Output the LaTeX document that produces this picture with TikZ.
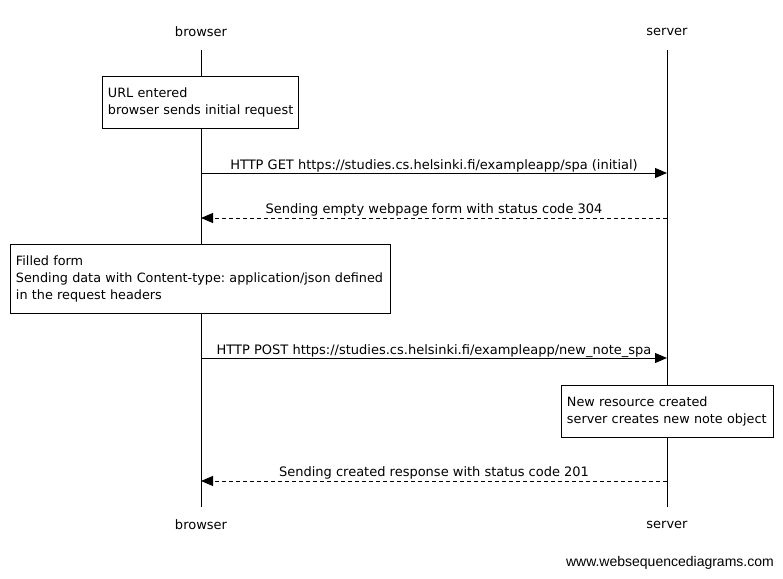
\documentclass[tikz,border=0pt]{standalone}
\usepackage{fontspec}
\setmainfont{DejaVu Sans}
\newfontfamily\wmfont{Liberation Sans}
\usetikzlibrary{arrows.meta}
\frenchspacing
\begin{document}
\begin{tikzpicture}[x=1pt,y=-1pt,
  lbl/.style={font=\fontsize{13}{17}\selectfont, inner sep=0pt},
  mlbl/.style={lbl, anchor=base},
  notebox/.style={draw=black, fill=white, line width=0.9pt, anchor=north west, align=left,
    font=\fontsize{12.8}{17}\selectfont, inner xsep=5.5pt, inner ysep=0pt},
  life/.style={line width=0.9pt},
  msg/.style={line width=0.9pt, -{Triangle[length=12pt,width=10pt]}},
  ret/.style={msg, dash pattern=on 4pt off 3pt}]
\useasboundingbox (0,0) rectangle (783,578);
% participants
\node[lbl] (btop) at (201,32) {browser};
\node[lbl] (stop) at (667,32) {server};
\node[lbl] (bbot) at (201,525) {browser};
\node[lbl] (sbot) at (667,525) {server};
\coordinate (bl1) at (201,50);
\coordinate (bl2) at (201,507);
\coordinate (sl1) at (667,50);
\coordinate (sl2) at (667,507);
\draw[life] (bl1) -- (bl2);
\draw[life] (sl1) -- (sl2);
% note 1
\node[notebox, minimum height=52pt, text width=185pt] (n1) at (102,76)
  {\mbox{URL entered}\\\mbox{browser sends initial request}};
% message 1
\coordinate (b1) at (201,173); \coordinate (s1) at (667,173);
\draw[msg] (b1) -- (s1);
\node[mlbl] (m1) at (434,169) {HTTP GET https://studies.cs.helsinki.fi/exampleapp/spa (initial)};
% message 2
\coordinate (b2) at (201,218); \coordinate (s2) at (667,218);
\draw[ret] (s2) -- (b2);
\node[mlbl] (m2) at (434,213) {Sending empty webpage form with status code 304};
% note 2
\node[notebox, minimum height=69pt, text width=369pt] (n2) at (10,244)
  {\mbox{Filled form}\\\mbox{Sending data with Content-type: application/json defined}\\\mbox{in the request headers}};
% message 3
\coordinate (b3) at (201,358); \coordinate (s3) at (667,358);
\draw[msg] (b3) -- (s3);
\node[mlbl] (m3) at (434,354) {HTTP POST https://studies.cs.helsinki.fi/exampleapp/new\_note\_spa};
% note 3
\node[notebox, minimum height=52pt, text width=201pt] (n3) at (561,385)
  {\mbox{New resource created}\\\mbox{server creates new note object}};
% message 4
\coordinate (b4) at (201,481); \coordinate (s4) at (667,481);
\draw[ret] (s4) -- (b4);
\node[mlbl] (m4) at (434,476) {Sending created response with status code 201};
% watermark
\node[font=\wmfont\fontsize{14}{16}\selectfont, anchor=east, inner sep=0pt] (wm) at (774,563) {www.websequencediagrams.com};
\end{tikzpicture}
\end{document}
